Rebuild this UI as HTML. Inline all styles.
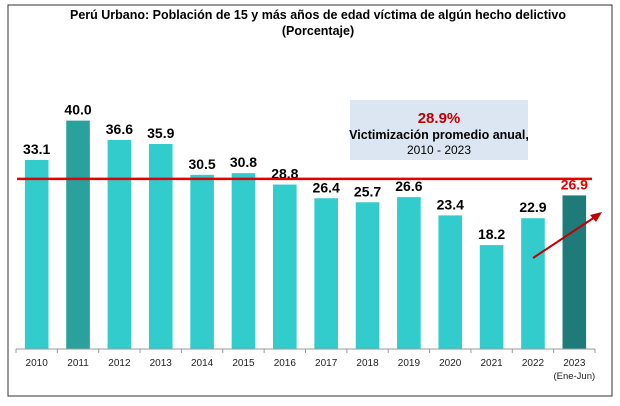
<!DOCTYPE html>
<html><head><meta charset="utf-8"><style>
body{margin:0;background:#fff;font-family:"Liberation Sans",Arial,sans-serif;}
#wrap{position:relative;width:620px;height:406px;overflow:hidden;background:#fff}
</style></head><body>
<div id="wrap">
<svg id="chart" width="620" height="406" xmlns="http://www.w3.org/2000/svg">
<rect x="8" y="5" width="604" height="391" fill="none" stroke="#333" stroke-width="1"/>
<text x="318" y="19" text-anchor="middle" font-size="12.5" font-weight="bold" fill="#000">Perú Urbano: Población de 15 y más años de edad víctima de algún hecho delictivo</text>
<text x="318" y="35" text-anchor="middle" font-size="12.5" font-weight="bold" fill="#000">(Porcentaje)</text>
<rect x="350" y="100" width="178" height="60" fill="#dce6f2"/>
<text x="439" y="123" text-anchor="middle" font-size="15" font-weight="bold" fill="#c00000">28.9%</text>
<text x="439" y="139" text-anchor="middle" font-size="12.5" font-weight="bold" fill="#000">Victimización promedio anual,</text>
<text x="439" y="154" text-anchor="middle" font-size="12" fill="#000">2010 - 2023</text>
<g id="bars"></g>
</svg>
</div>
<script>
const categories=["2010","2011","2012","2013","2014","2015","2016","2017","2018","2019","2020","2021","2022","2023"];
const values=[33.1,40.0,36.6,35.9,30.5,30.8,28.8,26.4,25.7,26.6,23.4,18.2,22.9,26.9];
const highlighted=[false,true,false,false,false,false,false,false,false,false,false,false,false,true];
const averageLineValue=29.8;
const NS="http://www.w3.org/2000/svg";
const svg=document.getElementById('chart');
const g=document.getElementById('bars');
const x0=16,x1=595,base=349,scale=5.71;
const bw=(x1-x0)/categories.length;
const xc=i=>x0+bw*(i+0.5);
const y=v=>base-v*scale;
function mk(t,a){const e=document.createElementNS(NS,t);for(const k in a)e.setAttribute(k,a[k]);g.appendChild(e);return e;}
categories.forEach((c,i)=>{
  const r=mk('rect',{x:xc(i)-11.8,y:y(values[i]),width:23.6,height:values[i]*scale,fill:highlighted[i]?(i===13?'#1f7a7a':'#2aa19c'):'#33cccc'});
  
  
  const last=i===categories.length-1;
  const t=mk('text',{x:xc(i),y:y(values[i])-6,'text-anchor':'middle','font-size':'14','font-weight':'bold',fill:last?'#e00000':'#000'});
  t.textContent=values[i].toFixed(1);
  
  
  const l=mk('text',{x:xc(i),y:366,'text-anchor':'middle','font-size':'10',fill:'#222'});
  l.textContent=c;
  
  
  if(last){const s=mk('text',{x:xc(i),y:379,'text-anchor':'middle','font-size':'9.5',fill:'#222'});s.textContent='(Ene-Jun)';
  
  }
});
const ax=mk('line',{x1:x0,x2:x1,y1:base,y2:base,stroke:'#999','stroke-width':1});


for(let i=0;i<=categories.length;i++){const tk=mk('line',{x1:x0+bw*i,x2:x0+bw*i,y1:base,y2:base+4,stroke:'#999'});

}
const av=mk('line',{x1:17,x2:592,y1:y(averageLineValue),y2:y(averageLineValue),stroke:'#e00000','stroke-width':2.5});


const ar=mk('line',{x1:533,y1:258,x2:598,y2:215,stroke:'#c00000','stroke-width':2});


const ah=mk('polygon',{points:'602,212 590,215 596,222',fill:'#c00000'});


</script>
</body></html>
